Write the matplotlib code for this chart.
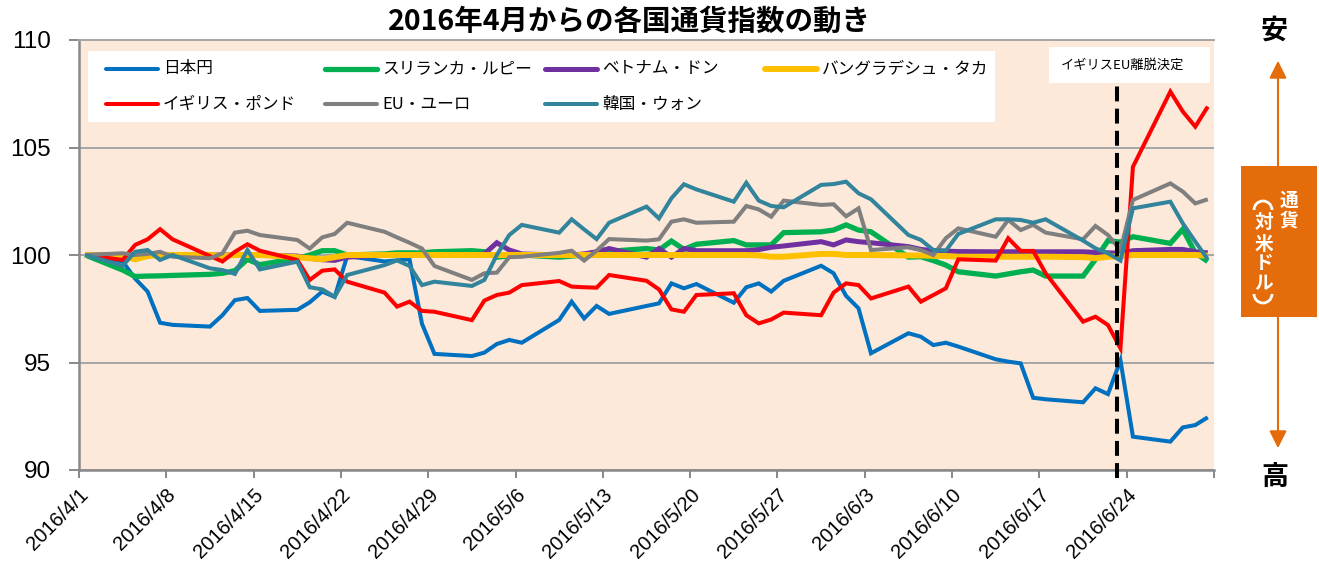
import matplotlib
matplotlib.use("Agg")
import matplotlib.pyplot as plt
import matplotlib.dates as mdates
from matplotlib.patches import Rectangle, FancyArrowPatch, Arc
from matplotlib.lines import Line2D
from matplotlib.transforms import ScaledTranslation
import pandas as pd

# business days 2016/4/1 - 2016/6/30
dates = pd.bdate_range("2016-04-01", "2016-06-30")

names = ["日本円", "スリランカ・ルピー", "ベトナム・ドン", "バングラデシュ・タカ",
         "イギリス・ポンド", "EU・ユーロ", "韓国・ウォン"]
colors = ["#0070C0", "#00B050", "#7030A0", "#FFC000", "#FF0000", "#7F7F7F", "#31849B"]
widths = [2.9, 3.8, 3.6, 4.3, 2.9, 2.9, 2.9]

jpy = [100, 99.7, 98.9, 98.3, 96.85, 96.75, 96.67, 97.2, 97.9, 98.0, 97.4,
       97.45, 97.8, 98.3, 98.05, 99.95, 99.7, 99.75, 99.8, 96.8, 95.4,
       95.3, 95.46, 95.86, 96.05, 95.92, 96.98, 97.83, 97.05, 97.63, 97.26,
       97.63, 97.75, 98.68, 98.45, 98.65, 97.78, 98.5, 98.68, 98.3, 98.8,
       99.5, 99.15, 98.1, 97.52, 95.43, 96.36, 96.2, 95.81, 95.92, 95.74,
       95.15, 95.04, 94.96, 93.36, 93.29, 93.15, 93.8, 93.53, 95.1, 91.55,
       91.32, 91.98, 92.09, 92.45]
lkr = [100, 99.3, 99.0, 99.02, 99.03, 99.05, 99.1, 99.15, 99.27, 99.8, 99.55,
       99.85, 100.0, 100.2, 100.2, 100.0, 100.05, 100.1, 100.1, 100.1, 100.15,
       100.2, 100.15, 99.9, 99.95, 100.0, 99.9, 99.95, 100.0, 100.1, 100.17,
       100.3, 100.23, 100.65, 100.26, 100.5, 100.67, 100.47, 100.47, 100.47, 101.04,
       101.08, 101.16, 101.4, 101.16, 101.08, 99.9, 99.92, 99.74, 99.53, 99.22,
       99.02, 99.12, 99.22, 99.3, 99.02, 99.02, 99.8, 100.67, 100.6, 100.85,
       100.54, 101.2, 100.1, 99.7]
vnd = [100, 100, 100, 100, 100, 100, 100, 100, 100, 100, 100,
       99.95, 99.85, 99.78, 99.75, 99.9, 100, 100, 100, 100, 100,
       100, 100.05, 100.57, 100.23, 100.05, 100, 100, 100.05, 100.15, 100.3,
       99.9, 100.3, 99.9, 100.3, 100.2, 100.2, 100.2, 100.25, 100.36, 100.42,
       100.62, 100.47, 100.7, 100.62, 100.57, 100.39, 100.26, 100.2, 100.18, 100.16,
       100.15, 100.15, 100.15, 100.15, 100.15, 100.15, 100.12, 100.1, 100.08, 100.2,
       100.26, 100.26, 100.15, 100.1]
bdt = [100, 99.95, 99.8, 99.95, 100, 100, 100, 99.95, 100, 100, 100,
       99.9, 99.85, 99.8, 99.9, 100, 100, 100, 100, 100, 100,
       100, 100, 100, 100, 100, 100, 100, 100, 100, 100,
       100, 100, 100, 100, 100, 100, 100, 99.98, 99.92, 99.92,
       100.05, 100.05, 100, 100, 100, 99.98, 99.98, 99.96, 99.95, 99.92,
       99.92, 99.92, 99.92, 99.92, 99.92, 99.9, 99.85, 99.92, 99.95, 100,
       100, 100, 100, 99.97]
gbp = [100, 99.77, 100.47, 100.73, 101.2, 100.73, 99.95, 99.7, 100.15, 100.5, 100.2,
       99.77, 98.84, 99.27, 99.33, 98.76, 98.25, 97.6, 97.83, 97.4, 97.36,
       96.97, 97.88, 98.14, 98.25, 98.6, 98.79, 98.53, 98.5, 98.48, 99.07,
       98.8, 98.4, 97.47, 97.36, 98.14, 98.22, 97.2, 96.82, 97.0, 97.32,
       97.2, 98.25, 98.68, 98.6, 97.98, 98.53, 97.83, 98.14, 98.45, 99.8,
       99.74, 100.78, 100.19, 100.19, 99.15, 96.9, 97.13, 96.74, 95.66, 104.1,
       107.6, 106.67, 105.97, 106.9]
eur = [100, 100.08, 100.0, 100.05, 100.15, 99.92, 99.85, 100.08, 101.04, 101.13, 100.93,
       100.7, 100.3, 100.82, 100.98, 101.5, 101.08, 100.82, 100.57, 100.3, 99.49,
       98.84, 99.15, 99.18, 99.9, 99.92, 100.1, 100.2, 99.74, 100.2, 100.74,
       100.67, 100.73, 101.55, 101.66, 101.5, 101.55, 102.28, 102.12, 101.78, 102.53,
       102.33, 102.36, 101.8, 102.17, 100.23, 100.36, 100.23, 100.0, 100.78, 101.24,
       100.85, 101.63, 101.16, 101.4, 101.04, 100.73, 101.35, 100.93, 100.23, 102.56,
       103.33, 102.95, 102.4, 102.59]
krw = [100, 99.5, 100.15, 100.23, 99.77, 100.0, 99.38, 99.3, 99.12, 100.23, 99.33,
       99.69, 98.5, 98.4, 98.06, 99.07, 99.53, 99.75, 99.49, 98.6, 98.76,
       98.56, 98.84, 100.0, 100.93, 101.4, 101.04, 101.66, 101.19, 100.74, 101.5,
       102.25, 101.7, 102.64, 103.29, 103.05, 102.48, 103.36, 102.53, 102.28, 102.22,
       103.26, 103.3, 103.41, 102.87, 102.59, 100.93, 100.7, 100.23, 100.2, 100.98,
       101.66, 101.66, 101.63, 101.5, 101.66, 100.67, 100.31, 100.08, 99.74, 102.17,
       102.48, 101.47, 100.62, 99.8]
series = [jpy, lkr, vnd, bdt, gbp, eur, krw]

brexit_day = "2016-06-23"
W, H = 1319, 567
CJK = ["Noto Sans CJK JP", "DejaVu Sans"]


def px(x, y):
    return x / W, 1 - y / H


fig = plt.figure(figsize=(W / 100, H / 100), dpi=100)
ax = fig.add_axes([79 / W, 97 / H, 1135 / W, 430 / H])
ax.set_facecolor("#FCE9DA")

x = mdates.date2num(dates) + 0.5
for vals, c, lw in zip(series, colors, widths):
    ax.plot(x, vals, color=c, lw=lw, solid_joinstyle="miter", solid_capstyle="butt")

x0 = mdates.date2num(pd.Timestamp("2016-04-01"))
x1 = mdates.date2num(pd.Timestamp("2016-07-01"))
ax.set_xlim(x0, x1)
ax.set_ylim(90, 110)
ax.set_yticks([90, 95, 100, 105, 110])
ax.yaxis.grid(True, color="#A6A6A6", lw=1.4)
ax.set_axisbelow(True)

ticks = pd.date_range("2016-04-01", "2016-07-01", freq="7D")
ax.set_xticks(mdates.date2num(ticks))
labels = [f"{d.year}/{d.month}/{d.day}" for d in ticks]
labels[-1] = ""
ax.set_xticklabels(labels, rotation=45, ha="right", va="top", rotation_mode="anchor",
                   family="Liberation Sans", fontsize=14.5)
for lab in ax.get_xticklabels():
    lab.set_transform(lab.get_transform() + ScaledTranslation(6 / 100, 0, fig.dpi_scale_trans))
ax.tick_params(axis="x", length=6, width=1.4, color="#898989", pad=5)
ax.tick_params(axis="y", length=7, width=1.4, color="#898989", pad=13, labelsize=17.5)
for lab in ax.get_yticklabels():
    lab.set_family("Liberation Sans")

for s in ["left", "bottom"]:
    ax.spines[s].set_color("#898989")
    ax.spines[s].set_linewidth(1.8)
ax.spines["top"].set_color("#A6A6A6")
ax.spines["top"].set_linewidth(1.4)
ax.spines["right"].set_visible(False)

# brexit marker
xb = mdates.date2num(pd.Timestamp(brexit_day)) + 0.24
ax.plot([xb, xb], [89.65, 108.0], color="black", lw=2.9, dashes=(3.7, 1.8), clip_on=False, zorder=5)
ax.add_patch(Rectangle((0.8546, 0.90), 0.1419, 0.0837, transform=ax.transAxes,
                       facecolor="white", edgecolor="none", zorder=6))
ax.text(0.9198, 0.9419, "イギリスEU離脱決定", transform=ax.transAxes, ha="center", va="center",
        fontsize=9.5, family=CJK, zorder=7)

# legend (4 columns, row-major as in Excel)
ax.add_patch(Rectangle(((88 - 79) / 1135, (470 - 122) / 430), (995 - 88) / 1135, 71 / 430,
                       transform=ax.transAxes, facecolor="white", edgecolor="none", zorder=6))
col_x = [106, 325, 545, 765]
row_y = [69, 104]
for i, (name, c, lw) in enumerate(zip(names, colors, widths)):
    cx = col_x[i % 4]
    ry = row_y[i // 4]
    yy = (470 - ry) / 430
    ax.add_line(Line2D([(cx - 79) / 1135, (cx + 52 - 79) / 1135], [yy, yy], color=c, lw=lw,
                       transform=ax.transAxes, zorder=7, solid_capstyle="round"))
    ax.text((cx + 57 - 79) / 1135, yy, name, transform=ax.transAxes, ha="left", va="center",
            fontsize=12, family=CJK, zorder=7)

# title
fig.text(*px(629, 22), "2016年4月からの各国通貨指数の動き", ha="center", va="center",
         fontsize=20.5, fontweight="bold", family=CJK)

# right side: 安 / 高 scale
orange = "#E46C0A"
fig.text(*px(1274, 31), "安", ha="center", va="center", fontsize=19.5, fontweight="bold", family=CJK)
fig.text(*px(1275, 477), "高", ha="center", va="center", fontsize=19.5, fontweight="bold", family=CJK)
fig.add_artist(FancyArrowPatch(px(1278, 58), px(1278, 451), transform=fig.transFigure,
                               arrowstyle="<|-|>,head_length=0.7,head_width=0.35",
                               mutation_scale=15, color=orange, lw=1.5))
fig.add_artist(Rectangle(px(1241, 317), 76 / W, 151 / H, transform=fig.transFigure,
                         facecolor=orange, edgecolor="none"))
for ch, yy in zip("通貨", [200, 221]):
    fig.text(*px(1289, yy), ch, ha="center", va="center", fontsize=13.5, fontweight="bold",
             color="white", family=CJK)
for ch, yy in zip("対米ドル", [223, 244, 264, 284]):
    fig.text(*px(1264, yy), ch, ha="center", va="center", fontsize=13.5, fontweight="bold",
             color="white", family=CJK)
# vertical-writing brackets （ ） drawn as arcs
fig.add_artist(Arc(px(1263, 210), 18 / W, 18 / H, theta1=0, theta2=180,
                   transform=fig.transFigure, color="white", lw=2))
fig.add_artist(Arc(px(1263, 294), 18 / W, 18 / H, theta1=180, theta2=360,
                   transform=fig.transFigure, color="white", lw=2))

fig.savefig("out.png", dpi=100)
